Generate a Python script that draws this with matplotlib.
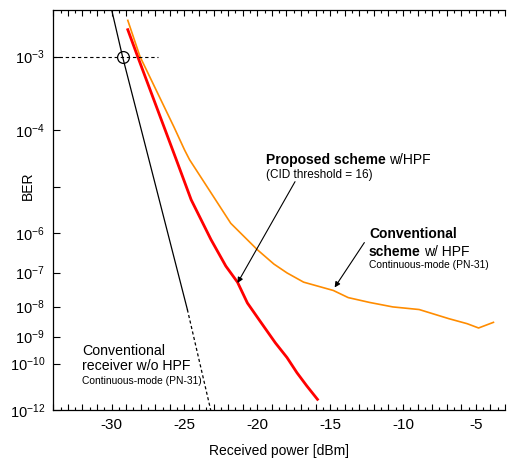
import numpy as np
import matplotlib
matplotlib.use('Agg')
import matplotlib.pyplot as plt
from matplotlib.ticker import FixedLocator, MultipleLocator, FuncFormatter, NullLocator

plt.rcParams['font.family'] = ['Liberation Sans', 'DejaVu Sans']
plt.rcParams['mathtext.fontset'] = 'custom'
plt.rcParams['mathtext.rm'] = 'Liberation Sans'
plt.rcParams['axes.unicode_minus'] = False

# conventional receiver w/o HPF (solid part + extrapolated dashed part)
conv_nohpf_x = [-30.0, -29.25, -24.8]
conv_nohpf_ber = [3.2e-3, 1.0e-3, 8.1e-9]
conv_nohpf_ext_x = [-24.8, -23.2]
conv_nohpf_ext_ber = [8.1e-9, 1.0e-12]

# proposed scheme w/HPF
prop_x = [-28.89, -28.21, -25.56, -24.54, -23.18, -22.16, -21.36, -20.68, -19.88,
          -18.76, -17.96, -17.28, -16.60, -15.87]
prop_ber = [2.0e-3, 1.0e-3, 3.2e-5, 5.5e-6, 7.1e-7, 1.5e-7, 5.4e-8, 1.3e-8, 3.8e-9,
            6.0e-10, 1.7e-10, 4.3e-11, 1.2e-11, 3.1e-12]

# conventional scheme w/ HPF
conv_hpf_x = [-28.89, -28.05, -25.71, -24.99, -24.65, -21.82, -20.0, -18.86, -17.96,
              -16.82, -14.78, -13.76, -12.29, -10.70, -8.89, -6.85, -5.60, -4.81, -3.79]
conv_hpf_ber = [2.5e-3, 1.0e-3, 1.1e-4, 4.7e-5, 3.2e-5, 1.7e-6, 4.0e-7, 1.7e-7, 9.8e-8,
                5.4e-8, 3.1e-8, 1.9e-8, 1.35e-8, 9.8e-9, 8.1e-9, 4.1e-9, 2.8e-9, 2.0e-9, 3.1e-9]

# 1e-3 reference point
ref_x = -29.25
ref_ber = 1.0e-3

yticks = [1e-3, 1e-4, 1e-5, 1e-6, 1e-7, 1e-8, 1e-9, 1e-10, 1e-12]
ylabels = ['-3', '-4', '', '-6', '-7', '-8', '-9', '-10', '-12']

W, H = 508.0, 459.0


def px(x, y):
    # pixel (top-left origin) -> figure fraction
    return x / W, 1 - y / H


def fwd(y):
    y = np.asarray(y, dtype=float)
    with np.errstate(all='ignore'):
        return -np.log10(-np.log10(np.clip(y, 1e-300, 0.999999)))


def inv(v):
    v = np.asarray(v, dtype=float)
    with np.errstate(all='ignore'):
        return 10.0 ** (-(10.0 ** (-v)))


fig = plt.figure(figsize=(W / 100, H / 100), dpi=100)
ax = fig.add_axes([0.105, 0.1068, 0.889, 0.8715])
ax.set_yscale('function', functions=(fwd, inv))

ax.plot(conv_nohpf_x, conv_nohpf_ber, color='black', lw=0.9)
ax.plot(conv_nohpf_ext_x, conv_nohpf_ext_ber, color='black', lw=0.9, ls=(0, (2.5, 2)))
ax.plot(conv_hpf_x, conv_hpf_ber, color='#ff8c00', lw=1.2)
ax.plot(prop_x, prop_ber, color='#ff0000', lw=2.0)

ax.plot([-34, -26.8], [ref_ber, ref_ber], color='black', lw=0.8, ls=(0, (3, 2.5)))
ax.plot([ref_x], [ref_ber], marker='o', ms=8.5, mfc='none', mec='black', mew=0.9)

ax.set_xlim(-34, -3)
ax.set_ylim(1e-12, 10 ** -2.498)

ax.yaxis.set_major_locator(FixedLocator(yticks))
ax.yaxis.set_minor_locator(NullLocator())
ax.set_yticklabels([r'$\mathregular{10^{%s}}$' % l if l else '' for l in ylabels])

ax.xaxis.set_major_locator(MultipleLocator(1))
ax.xaxis.set_minor_locator(MultipleLocator(0.5))
ax.xaxis.set_major_formatter(FuncFormatter(lambda v, p: '%d' % v if abs(v % 5) < 1e-6 else ''))

ax.tick_params(axis='x', which='major', direction='in', length=4, width=0.8, top=True,
               labelsize=11, pad=6)
ax.tick_params(axis='x', which='minor', direction='in', length=2.5, width=0.8, top=True)
ax.tick_params(axis='y', which='major', direction='in', length=5, width=0.8, labelsize=10.5, pad=6)

ax.spines['right'].set_visible(False)
for s in ['left', 'bottom', 'top']:
    ax.spines[s].set_linewidth(0.9)

ax.set_xlabel('Received power [dBm]', fontsize=10)
ax.xaxis.set_label_coords(0.5, -(444 - 410) / 400.0)
ax.set_ylabel('BER', fontsize=10)
ax.yaxis.set_label_coords(-0.041, 0.561)

# arrows
ax.annotate('', xy=(-21.36, 5.1e-8), xytext=(-17.41, 1.26e-5),
            arrowprops=dict(arrowstyle='-|>', color='black', lw=0.8, mutation_scale=8,
                            shrinkA=0, shrinkB=0))
ax.annotate('', xy=(-14.69, 3.8e-8), xytext=(-12.65, 6.0e-7),
            arrowprops=dict(arrowstyle='-|>', color='black', lw=0.8, mutation_scale=8,
                            shrinkA=0, shrinkB=0))

# labels
fig.text(*px(266, 164), 'Proposed scheme', fontsize=10, fontweight='bold', va='baseline')
fig.text(*px(389, 164), 'w/HPF', fontsize=10, va='baseline')
fig.text(*px(266, 178), '(CID threshold = 16)', fontsize=8.5, va='baseline')

fig.text(*px(369, 238), 'Conventional', fontsize=10, fontweight='bold', va='baseline')
fig.text(*px(369, 256), 'scheme', fontsize=10, fontweight='bold', va='baseline')
fig.text(*px(424, 256), 'w/ HPF', fontsize=10, va='baseline')
fig.text(*px(369, 268), 'Continuous-mode (PN-31)', fontsize=7.4, va='baseline')

fig.text(*px(82, 355), 'Conventional', fontsize=10.2, va='baseline')
fig.text(*px(82, 370), 'receiver w/o HPF', fontsize=10.2, va='baseline')
fig.text(*px(82, 384), 'Continuous-mode (PN-31)', fontsize=7.4, va='baseline')

fig.savefig('out.png', dpi=100)
